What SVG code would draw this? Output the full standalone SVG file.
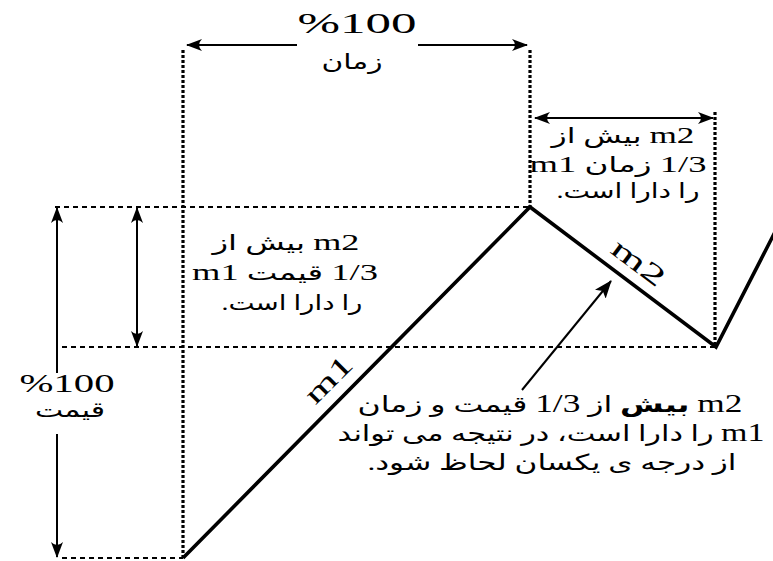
<svg xmlns="http://www.w3.org/2000/svg" width="773" height="561" viewBox="0 0 773 561">
<style>
.dot{stroke:#000;stroke-width:3.2;stroke-dasharray:3 2;fill:none}
.dash{stroke:#000;stroke-width:2.2;stroke-dasharray:5 4;fill:none}
.dim{stroke:#000;stroke-width:2;fill:none}
.zig{stroke:#000;stroke-width:3.6;fill:none;stroke-linejoin:miter}
.t{font-family:"Liberation Serif","DejaVu Sans",serif;fill:#000}
.l{font-family:"Liberation Serif",serif;font-size:1.12em}
.fa{direction:rtl;unicode-bidi:embed;text-anchor:middle}
</style>
<defs>
<marker id="ah" viewBox="0 0 16 12" refX="15" refY="6" markerWidth="16" markerHeight="12" markerUnits="userSpaceOnUse" orient="auto-start-reverse">
<path d="M0,0 Q6,6 0,12 L16,6 Z" fill="#000"/>
</marker>
<marker id="ap" viewBox="0 0 18 14" refX="17" refY="7" markerWidth="18" markerHeight="14" markerUnits="userSpaceOnUse" orient="auto">
<path d="M0,0 L18,7 L0,14 L4,7 Z" fill="#000"/>
</marker>
</defs>
<g id="guides">
<line class="dot" x1="183" y1="50" x2="183" y2="558"/>
<line class="dot" x1="530" y1="50" x2="530" y2="207"/>
<line class="dot" x1="715" y1="112" x2="715" y2="347"/>
<line class="dash" x1="55" y1="207" x2="530" y2="207"/>
<line class="dash" x1="62" y1="347" x2="715" y2="347"/>
<line class="dash" x1="62" y1="558" x2="183" y2="558"/>
</g>
<g id="connectors">
<line class="dim" x1="297" y1="45" x2="187" y2="45" marker-end="url(#ah)"/>
<line class="dim" x1="418" y1="45" x2="527" y2="45" marker-end="url(#ah)"/>
<line class="dim" x1="535" y1="118" x2="713" y2="118" marker-start="url(#ah)" marker-end="url(#ah)"/>
<line class="dim" x1="57" y1="373" x2="57" y2="208" stroke-width="3" marker-end="url(#ah)"/>
<line class="dim" x1="57" y1="434" x2="57" y2="557" stroke-width="3" marker-end="url(#ah)"/>
<line class="dim" x1="137" y1="208" x2="137" y2="346" stroke-width="3" marker-start="url(#ah)" marker-end="url(#ah)"/>
<line class="dim" x1="522" y1="390" x2="611" y2="281" stroke-width="2.5" marker-end="url(#ap)"/>
</g>
<g id="zigzag">
<polyline class="zig" points="183,558 530,207 716,347 775,232"/>
</g>
<g id="label-time">
<text class="t" x="357" y="33" font-size="30" text-anchor="middle" textLength="119" lengthAdjust="spacingAndGlyphs">%100</text>
<text class="t fa" x="352" y="69" font-size="21" textLength="61" lengthAdjust="spacingAndGlyphs">زمان</text>
</g>
<g id="label-price">
<text class="t" x="67" y="392" font-size="25" text-anchor="middle" textLength="95" lengthAdjust="spacingAndGlyphs">%100</text>
<text class="t fa" x="70" y="417" font-size="21" textLength="70" lengthAdjust="spacingAndGlyphs">قیمت</text>
</g>
<g id="box-time">
<text class="t fa" x="623" y="143" font-size="21" textLength="143" lengthAdjust="spacingAndGlyphs"><tspan class="l">m2</tspan> بیش از</text>
<text class="t fa" x="618" y="172" font-size="21" textLength="177" lengthAdjust="spacingAndGlyphs"><tspan class="l">1/3</tspan> زمان <tspan class="l">m1</tspan></text>
<text class="t fa" x="628" y="198" font-size="21" textLength="143" lengthAdjust="spacingAndGlyphs">را دارا است.</text>
</g>
<g id="box-price">
<text class="t fa" x="286" y="250" font-size="21" textLength="147" lengthAdjust="spacingAndGlyphs"><tspan class="l">m2</tspan> بیش از</text>
<text class="t fa" x="285" y="280" font-size="21" textLength="186" lengthAdjust="spacingAndGlyphs"><tspan class="l">1/3</tspan> قیمت <tspan class="l">m1</tspan></text>
<text class="t fa" x="292" y="310" font-size="21" textLength="141" lengthAdjust="spacingAndGlyphs">را دارا است.</text>
</g>
<g id="label-m1">
<text class="t" x="0" y="0" font-size="28" text-anchor="middle" textLength="56" lengthAdjust="spacingAndGlyphs" transform="translate(335,386) rotate(-45)">m1</text>
</g>
<g id="label-m2">
<text class="t" x="0" y="0" font-size="28" text-anchor="middle" textLength="60" lengthAdjust="spacingAndGlyphs" transform="translate(633,270) rotate(37)">m2</text>
</g>
<g id="note">
<text class="t fa" x="550" y="412" font-size="22" textLength="385" lengthAdjust="spacingAndGlyphs"><tspan class="l">m2</tspan> <tspan font-weight="bold">بیش</tspan> از <tspan class="l">1/3</tspan> قیمت و زمان</text>
<text class="t fa" x="551" y="441" font-size="22" textLength="427" lengthAdjust="spacingAndGlyphs"><tspan class="l">m1</tspan> را دارا است، در نتیجه می تواند</text>
<text class="t fa" x="552" y="470" font-size="22" textLength="369" lengthAdjust="spacingAndGlyphs">از درجه ی یکسان لحاظ شود.</text>
</g>
</svg>
